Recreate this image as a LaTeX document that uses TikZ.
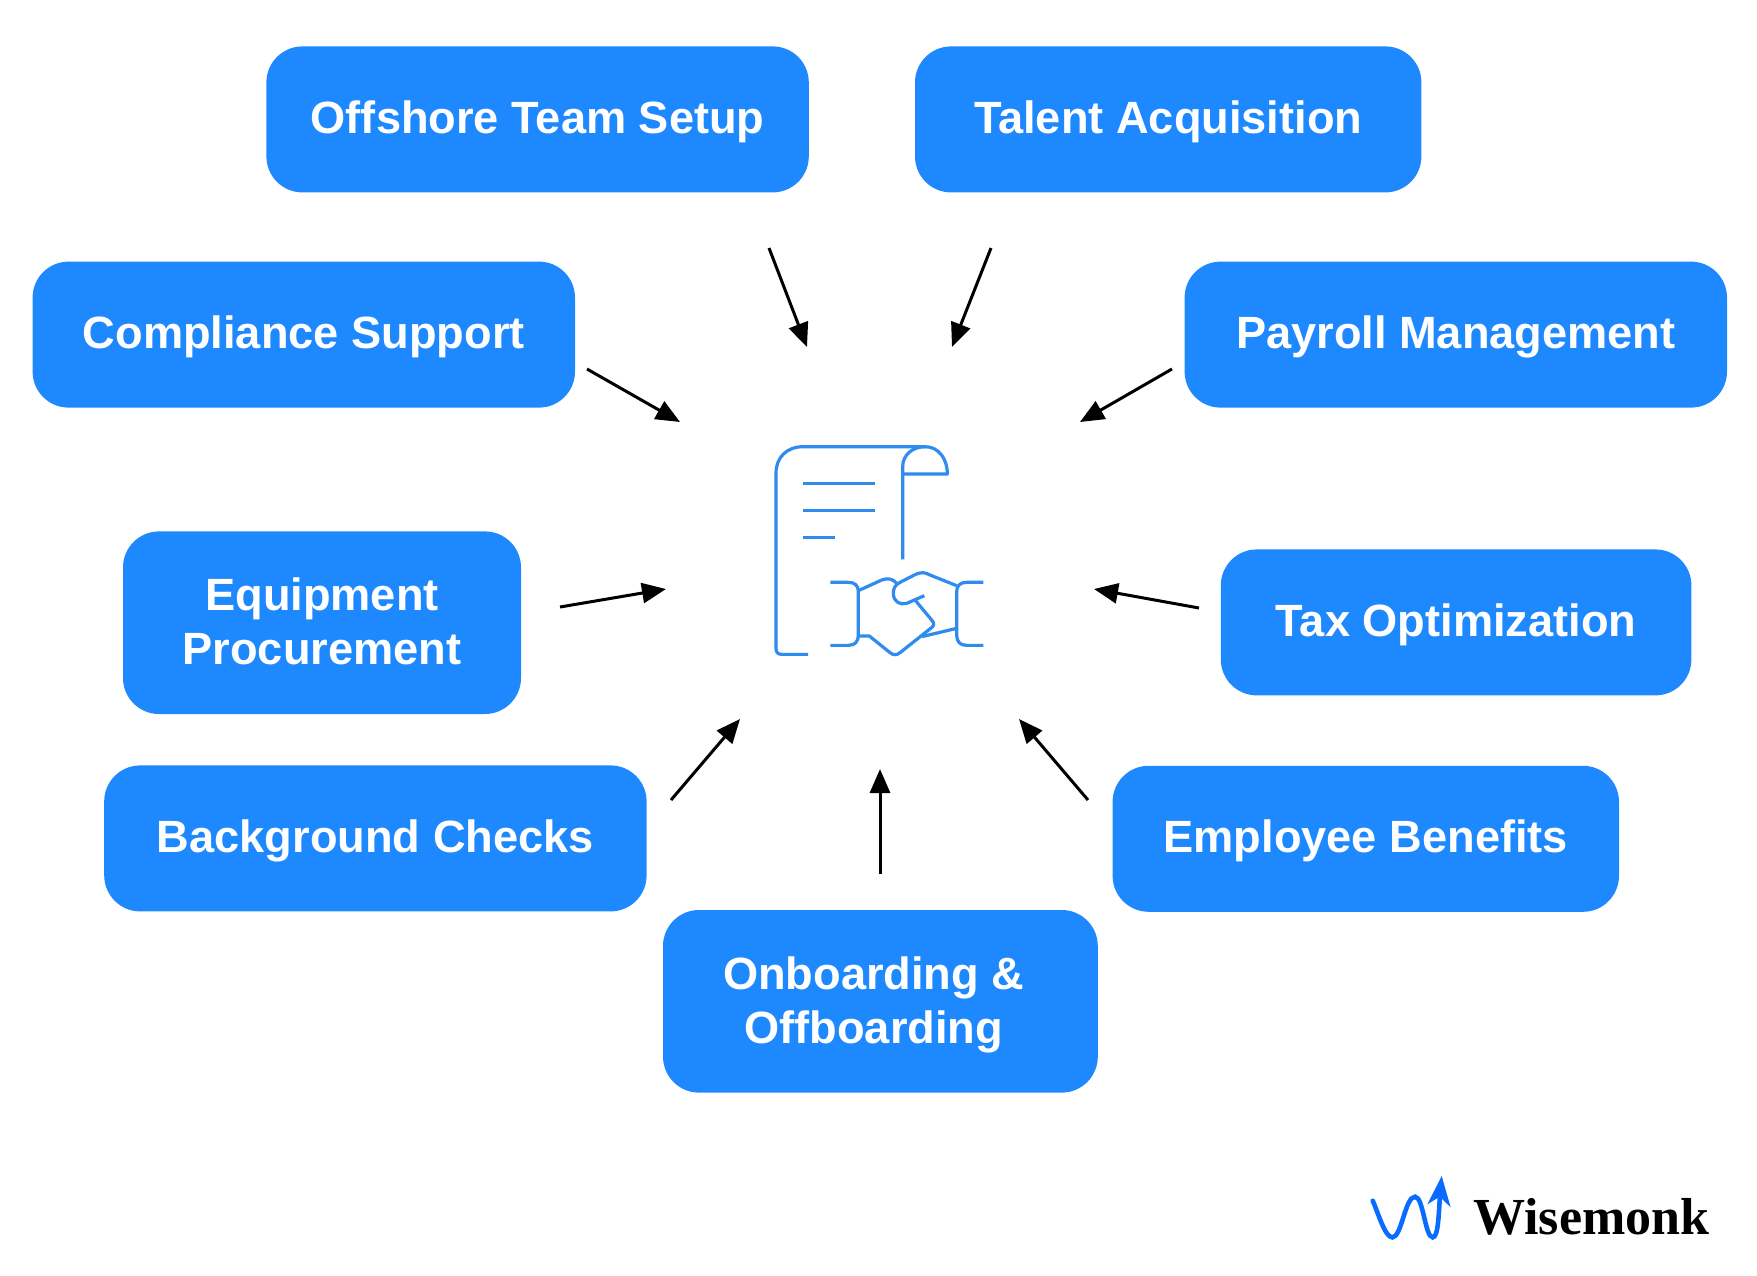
\documentclass[tikz,border=0pt]{standalone}
\usepackage{fontspec}
\setmainfont{Liberation Sans}
\newfontfamily\logofont{Liberation Serif}
\usetikzlibrary{positioning,arrows.meta}
\definecolor{boxblue}{HTML}{1E88FF}
\definecolor{iconblue}{HTML}{2F8BEE}
\definecolor{logoblue}{HTML}{0A6CFF}
\newcommand{\twolines}[2]{\rule{0pt}{19.8pt}#1\\#2\rule[-4.9pt]{0pt}{0pt}}
\tikzset{
box/.style={fill=boxblue,rounded corners=18pt,text=white,font=\fontsize{22.6}{27.2}\selectfont\bfseries,align=center,inner sep=0pt,minimum height=73pt},
oneline/.style={box,text height=20.5pt,text depth=6.4pt},
wide/.style={oneline,minimum width=271.2pt},
mid/.style={oneline,minimum width=253.2pt},
tall/.style={box,minimum height=91.3pt},
pointer/.style={line width=1.5pt,-{Triangle[length=12pt,width=10pt]}},
icon/.style={draw=iconblue,line width=1.6pt,line cap=butt,line join=round}
}
\begin{document}
\begin{tikzpicture}[x=0.5pt,y=-0.5pt]
\useasboundingbox (0,0) rectangle (1757,1275);
\node [wide,anchor=north west] (offshore) at (266,46) {Offshore Team Setup};
\node [mid,right=52.7pt of offshore] (talent) {Talent Acquisition};
\node [wide,below left=34.2pt and -154.7pt of offshore] (compliance) {Compliance Support};
\node [wide,below right=34.2pt and -118.8pt of talent] (payroll) {Payroll Management};
\node [tall,minimum width=199pt,below right=61.5pt and -226.4pt of compliance] (equipment) {\twolines{Equipment}{Procurement}};
\node [oneline,minimum width=235.3pt,below left=70.5pt and -253.8pt of payroll] (tax) {Tax Optimization};
\node [wide,below left=25.3pt and -262.2pt of equipment] (background) {Background Checks};
\node [mid,below left=34.8pt and -199.5pt of tax] (employee) {Employee Benefits};
\node [tall,minimum width=217.4pt,below right=-1.1pt and 7.8pt of background] (onboarding) {\twolines{Onboarding \&\hspace*{6.7pt}}{Offboarding\hspace*{6.7pt}}};
\coordinate (offshore-from) at (769,248);
\coordinate (offshore-to) at (807,347);
\coordinate (talent-from) at (991,248);
\coordinate (talent-to) at (952,347);
\coordinate (compliance-from) at (587,369);
\coordinate (compliance-to) at (680,422);
\coordinate (payroll-from) at (1172,369);
\coordinate (payroll-to) at (1080,422);
\coordinate (equipment-from) at (560,607);
\coordinate (equipment-to) at (666,589);
\coordinate (tax-from) at (1199,608);
\coordinate (tax-to) at (1094,589);
\coordinate (background-from) at (671,800);
\coordinate (background-to) at (740,719);
\coordinate (employee-from) at (1088,800);
\coordinate (employee-to) at (1019,719);
\coordinate (onboarding-from) at (880,874);
\coordinate (onboarding-to) at (880,769);
\foreach \name in {offshore,talent,compliance,payroll,equipment,tax,background,employee,onboarding}
\draw [pointer] (\name-from) -- (\name-to);
\begin{scope}[shift={(740,420)},x=0.16667pt,y=-0.16667pt]
\draw [icon] (204,703) -- (125,703) .. controls (114,703) and (108,697) .. (108,686) -- (108,160) .. controls (108,112) and (140,80) .. (190,80) -- (555,80) .. controls (595,80) and (622,115) .. (622,162) -- (488,162);
\draw [icon] (488,418) -- (488,140) .. controls (488,105) and (518,80) .. (555,80);
\draw [icon] (190,190) -- (406,190);
\draw [icon] (190,271) -- (406,271);
\draw [icon] (190,352) -- (285,352);
\draw [icon] (271,487) -- (325,487) .. controls (345,487) and (355,497) .. (355,515) -- (355,645) .. controls (355,665) and (345,676) .. (325,676) -- (271,676);
\draw [icon] (730,487) -- (680,487) .. controls (660,487) and (650,497) .. (650,515) -- (650,645) .. controls (650,665) and (660,676) .. (680,676) -- (730,676);
\draw [icon] (355,512) -- (425,480) .. controls (445,472) and (460,478) .. (470,490);
\draw [icon] (553,527) -- (500,550) .. controls (480,556) and (460,545) .. (460,520) .. controls (460,505) and (465,495) .. (480,487) -- (525,464) .. controls (545,455) and (555,457) .. (570,465) -- (650,497);
\draw [icon] (525,540) -- (575,600) .. controls (585,610) and (582,618) .. (572,625) -- (480,698) .. controls (470,706) and (460,706) .. (450,698) -- (388,648) -- (355,648);
\draw [icon] (545,650) -- (650,625);
\end{scope}
\begin{scope}[shift={(1340,1150)},x=0.1667pt,y=-0.1667pt]
\draw [logoblue,line width=2.3pt,line cap=round] (98,152) .. controls (115,190) and (135,262) .. (157,262) .. controls (185,262) and (195,140) .. (225,140) .. controls (250,140) and (255,262) .. (278,262) .. controls (295,262) and (296,190) .. (300,135);
\fill [logoblue] (305,78) -- (332,172) -- (299,140) -- (262,163) -- cycle;
\end{scope}
\node [font=\logofont\fontsize{26}{26}\selectfont\bfseries,anchor=base west,inner sep=0pt] (wisemonk) at (1473,1234) {Wisemonk};
\end{tikzpicture}
\end{document}
